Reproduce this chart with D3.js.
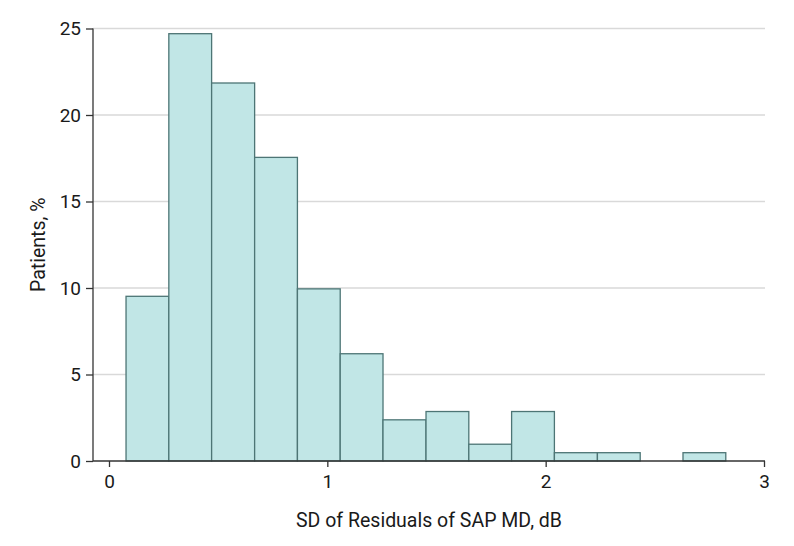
<!DOCTYPE html>
<html>
<head>
<meta charset="utf-8">
<script src="https://cdn.jsdelivr.net/npm/d3@7"></script>
<style>
  body { margin: 0; background: #fff; }
  svg text { font-family: "Roboto", "Liberation Sans", sans-serif; fill: #1a1a1a; }
</style>
</head>
<body>
<svg class="chart" width="794" height="546"></svg>
<script>
// histogram bins (dB) and share of patients (%)
var binStarts = [0.078, 0.274, 0.470, 0.667, 0.863, 1.059, 1.255, 1.452, 1.648, 1.844, 2.040, 2.237, 2.433, 2.629];
var binEnds   = [0.274, 0.470, 0.667, 0.863, 1.059, 1.255, 1.452, 1.648, 1.844, 2.040, 2.237, 2.433, 2.629, 2.825];
var percents  = [9.52, 24.7, 21.85, 17.55, 9.95, 6.2, 2.38, 2.86, 0.97, 2.86, 0.48, 0.48, 0, 0.48];
var xTicks = [0, 1, 2, 3];
var yTicks = [0, 5, 10, 15, 20, 25];

var chart = d3.select('.chart');
var axisX = 93, plotRight = 765;

var x = d3.scaleLinear().domain([0, 3]).range([109, 764]);
var y = d3.scaleLinear().domain([0, 25]).range([461, 28.5]);

var data = binStarts.map(function(s, i){
	return {x0: s, x1: binEnds[i], v: percents[i]};
});

// gridlines
chart.append('g').selectAll('line')
	.data(yTicks.filter(function(d){ return d > 0; }))
	.enter().append('line')
	.attr('x1', axisX).attr('x2', plotRight)
	.attr('y1', function(d){ return y(d); })
	.attr('y2', function(d){ return y(d); })
	.attr('stroke', '#d9d9d9')
	.attr('stroke-width', 1.5);

// bars
chart.append('g').selectAll('rect')
	.data(data.filter(function(d){ return d.v > 0; }))
	.enter().append('rect')
	.attr('x', function(d){ return x(d.x0); })
	.attr('width', function(d){ return x(d.x1) - x(d.x0); })
	.attr('y', function(d){ return y(d.v); })
	.attr('height', function(d){ return y(0) - y(d.v); })
	.attr('fill', '#c1e6e6')
	.attr('stroke', '#4d7575')
	.attr('stroke-width', 1.3);

// y axis
var yAxis = d3.axisLeft(y).tickValues(yTicks).tickSize(7).tickPadding(5);
var gy = chart.append('g')
	.attr('transform', 'translate(' + axisX + ',0)')
	.call(yAxis);
gy.select('.domain').remove();
gy.append('line')
	.attr('x1', 0).attr('x2', 0)
	.attr('y1', y(25)).attr('y2', y(0))
	.attr('stroke', '#333').attr('stroke-width', 1.3);
gy.selectAll('.tick line').attr('stroke', '#333').attr('stroke-width', 1.3);
gy.selectAll('.tick text').attr('font-size', '19px').attr('fill', '#1a1a1a')
	.attr('font-family', 'Roboto, sans-serif');

// x axis
var xAxis = d3.axisBottom(x).tickValues(xTicks).tickFormat(d3.format('d')).tickSize(6).tickPadding(8);
var gx = chart.append('g')
	.attr('transform', 'translate(0,' + y(0) + ')')
	.call(xAxis);
gx.select('.domain').remove();
gx.append('line')
	.attr('x1', axisX).attr('x2', plotRight)
	.attr('y1', 0).attr('y2', 0)
	.attr('stroke', '#333').attr('stroke-width', 1.3);
gx.selectAll('.tick line').attr('stroke', '#333').attr('stroke-width', 1.3);
gx.selectAll('.tick text').attr('font-size', '19px').attr('fill', '#1a1a1a')
	.attr('font-family', 'Roboto, sans-serif');

// titles
chart.append('text')
	.attr('x', (axisX + plotRight) / 2)
	.attr('y', 527)
	.attr('text-anchor', 'middle')
	.attr('font-size', '19.5px')
	.text('SD of Residuals of SAP MD, dB');

chart.append('text')
	.attr('transform', 'translate(45,' + ((y(0) + y(25)) / 2) + ') rotate(-90)')
	.attr('text-anchor', 'middle')
	.attr('font-size', '19.5px')
	.text('Patients, %');
</script>
</body>
</html>
